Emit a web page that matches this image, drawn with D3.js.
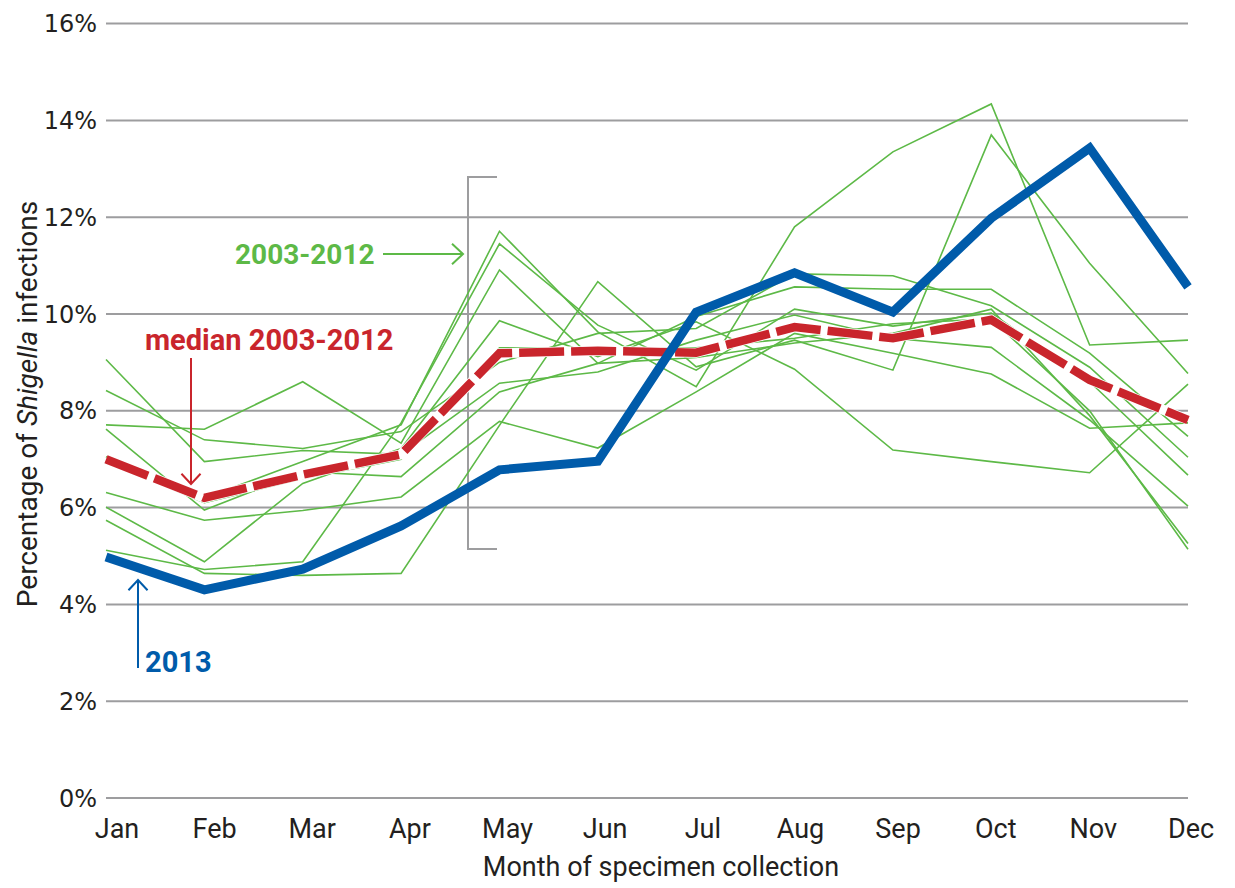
<!DOCTYPE html>
<html>
<head>
<meta charset="utf-8">
<script src="https://cdn.jsdelivr.net/npm/d3@7"></script>
<style>
  body { margin: 0; background: #fff; }
  text { font-family: "Liberation Sans Narrow", Roboto, "Liberation Sans", sans-serif; }
</style>
</head>
<body>
<div id="chart"></div>
<script>
// months on the x axis
var months = ["Jan","Feb","Mar","Apr","May","Jun","Jul","Aug","Sep","Oct","Nov","Dec"];
var yTicks = [0, 2, 4, 6, 8, 10, 12, 14, 16];

// percentage of Shigella infections, 2013
var y2013 = [4.98, 4.30, 4.73, 5.62, 6.78, 6.96, 10.04, 10.85, 10.04, 11.98, 13.43, 10.56];
// median of 2003-2012
var median = [7.00, 6.20, 6.68, 7.10, 9.19, 9.24, 9.20, 9.73, 9.50, 9.88, 8.64, 7.81];
// individual years 2003-2012 (year order unknown)
var yearsPast = [
  [9.06, 6.95, 7.18, 7.10, 8.57, 8.80, 9.46, 9.98, 9.50, 9.31, 7.81, 6.03],
  [8.42, 7.40, 7.22, 7.57, 9.00, 9.60, 9.70, 10.83, 10.79, 10.17, 8.90, 7.04],
  [7.71, 7.62, 8.60, 7.33, 10.91, 8.98, 9.95, 10.56, 10.51, 10.51, 9.19, 7.47],
  [7.62, 5.95, 6.74, 6.64, 8.39, 8.98, 9.10, 9.40, 9.60, 10.10, 7.90, 5.26],
  [7.05, 6.20, 6.95, 7.71, 11.71, 9.63, 8.50, 11.80, 13.35, 14.34, 9.36, 9.46],
  [6.31, 5.74, 5.94, 6.22, 7.78, 7.23, 8.39, 9.60, 9.19, 8.76, 7.64, 7.75],
  [6.01, 4.88, 6.50, 7.22, 9.86, 9.12, 9.84, 8.86, 7.19, 6.95, 6.72, 8.55],
  [5.74, 4.64, 4.60, 4.64, 7.70, 10.67, 8.91, 9.46, 8.84, 13.70, 11.05, 8.77],
  [5.12, 4.72, 4.88, 7.75, 11.45, 9.77, 8.84, 10.10, 9.75, 10.02, 8.60, 6.67],
  [6.95, 6.10, 6.60, 7.00, 9.30, 9.30, 9.30, 9.50, 9.80, 9.90, 8.00, 5.14]
];

var W = 1235, H = 888;
var margin = {top: 23.6, right: 47, bottom: 90, left: 106};

var svg = d3.select("#chart").append("svg")
  .attr("width", W)
  .attr("height", H);

var x = d3.scalePoint()
  .domain(months)
  .range([margin.left, W - margin.right]);

// month labels sit a little right of the points in the original
var xLab = d3.scalePoint()
  .domain(months)
  .range([117, 1191]);

var y = d3.scaleLinear()
  .domain([0, 16])
  .range([H - margin.bottom, margin.top]);

// gridlines
svg.append("g")
  .selectAll("line")
  .data(yTicks)
  .enter().append("line")
    .attr("x1", margin.left)
    .attr("x2", W - margin.right)
    .attr("y1", function(d) { return y(d); })
    .attr("y2", function(d) { return y(d); })
    .style("stroke", "#9d9d9f")
    .style("stroke-width", 2);

// y tick labels
svg.append("g")
  .selectAll("text")
  .data(yTicks)
  .enter().append("text")
    .attr("x", 97)
    .attr("y", function(d) { return y(d); })
    .attr("dy", "0.36em")
    .attr("text-anchor", "end")
    .style("font-family", "'DejaVu Sans', sans-serif")
    .style("font-size", "24px")
    .style("fill", "#231f20")
    .text(function(d) { return d + "%"; });

// x tick labels
svg.append("g")
  .selectAll("text")
  .data(months)
  .enter().append("text")
    .attr("x", function(d) { return xLab(d); })
    .attr("y", 838)
    .attr("text-anchor", "middle")
    .style("font-size", "27px")
    .style("fill", "#231f20")
    .text(function(d) { return d; });

// axis titles
svg.append("text")
  .attr("x", 661)
  .attr("y", 876)
  .attr("text-anchor", "middle")
  .style("font-size", "27px")
  .style("fill", "#231f20")
  .text("Month of specimen collection");

var yTitle = svg.append("text")
  .attr("transform", "translate(37,404) rotate(-90)")
  .attr("text-anchor", "middle")
  .style("font-size", "28px")
  .style("fill", "#231f20");
yTitle.append("tspan").text("Percentage of ");
yTitle.append("tspan").style("font-style", "italic").text("Shigella");
yTitle.append("tspan").text(" infections");

// bracket around the May values
var bracket = d3.path();
bracket.moveTo(497, 177);
bracket.lineTo(468, 177);
bracket.lineTo(468, 549);
bracket.lineTo(497, 549);
svg.append("path")
  .attr("d", bracket.toString())
  .style("fill", "none")
  .style("stroke", "#9d9d9f")
  .style("stroke-width", 2);

var line = d3.line()
  .x(function(d, i) { return x(months[i]); })
  .y(function(d) { return y(d); });

// past years
svg.append("g")
  .selectAll("path")
  .data(yearsPast)
  .enter().append("path")
    .attr("d", line)
    .style("fill", "none")
    .style("stroke", "#5db947")
    .style("stroke-width", 1.6)
    .style("stroke-linejoin", "miter");

// median: white underlay so the gaps read as white
svg.append("path")
  .datum(median)
  .attr("d", line)
  .style("fill", "none")
  .style("stroke", "#fff")
  .style("stroke-width", 10);
svg.append("path")
  .datum(median)
  .attr("d", line)
  .style("fill", "none")
  .style("stroke", "#c9252c")
  .style("stroke-width", 8.5)
  .style("stroke-dasharray", "45,7");

// 2013
svg.append("path")
  .datum(y2013)
  .attr("d", line)
  .style("fill", "none")
  .style("stroke", "#005baa")
  .style("stroke-width", 9)
  .style("stroke-linejoin", "miter");

// annotations
function arrow(x1, y1, x2, y2, color, head) {
  var ang = Math.atan2(y2 - y1, x2 - x1);
  var p = d3.path();
  p.moveTo(x1, y1);
  p.lineTo(x2, y2);
  var a1 = ang + Math.PI - 0.75, a2 = ang + Math.PI + 0.75;
  p.moveTo(x2 + head * Math.cos(a1), y2 + head * Math.sin(a1));
  p.lineTo(x2, y2);
  p.lineTo(x2 + head * Math.cos(a2), y2 + head * Math.sin(a2));
  svg.append("path")
    .attr("d", p.toString())
    .style("fill", "none")
    .style("stroke", color)
    .style("stroke-width", 2);
}

svg.append("text")
  .attr("x", 235)
  .attr("y", 264)
  .style("font-size", "28px")
  .style("font-weight", "bold")
  .style("fill", "#5db947")
  .text("2003-2012");
arrow(383, 254, 463, 254, "#5db947", 15);

svg.append("text")
  .attr("x", 145)
  .attr("y", 350)
  .style("font-size", "29px")
  .style("font-weight", "bold")
  .style("fill", "#c9252c")
  .text("median 2003-2012");
arrow(191, 358, 191, 484, "#c9252c", 14);

svg.append("text")
  .attr("x", 145)
  .attr("y", 672)
  .style("font-size", "29px")
  .style("font-weight", "bold")
  .style("fill", "#005baa")
  .text("2013");
arrow(138, 668, 138, 580, "#005baa", 14);
</script>
</body>
</html>
